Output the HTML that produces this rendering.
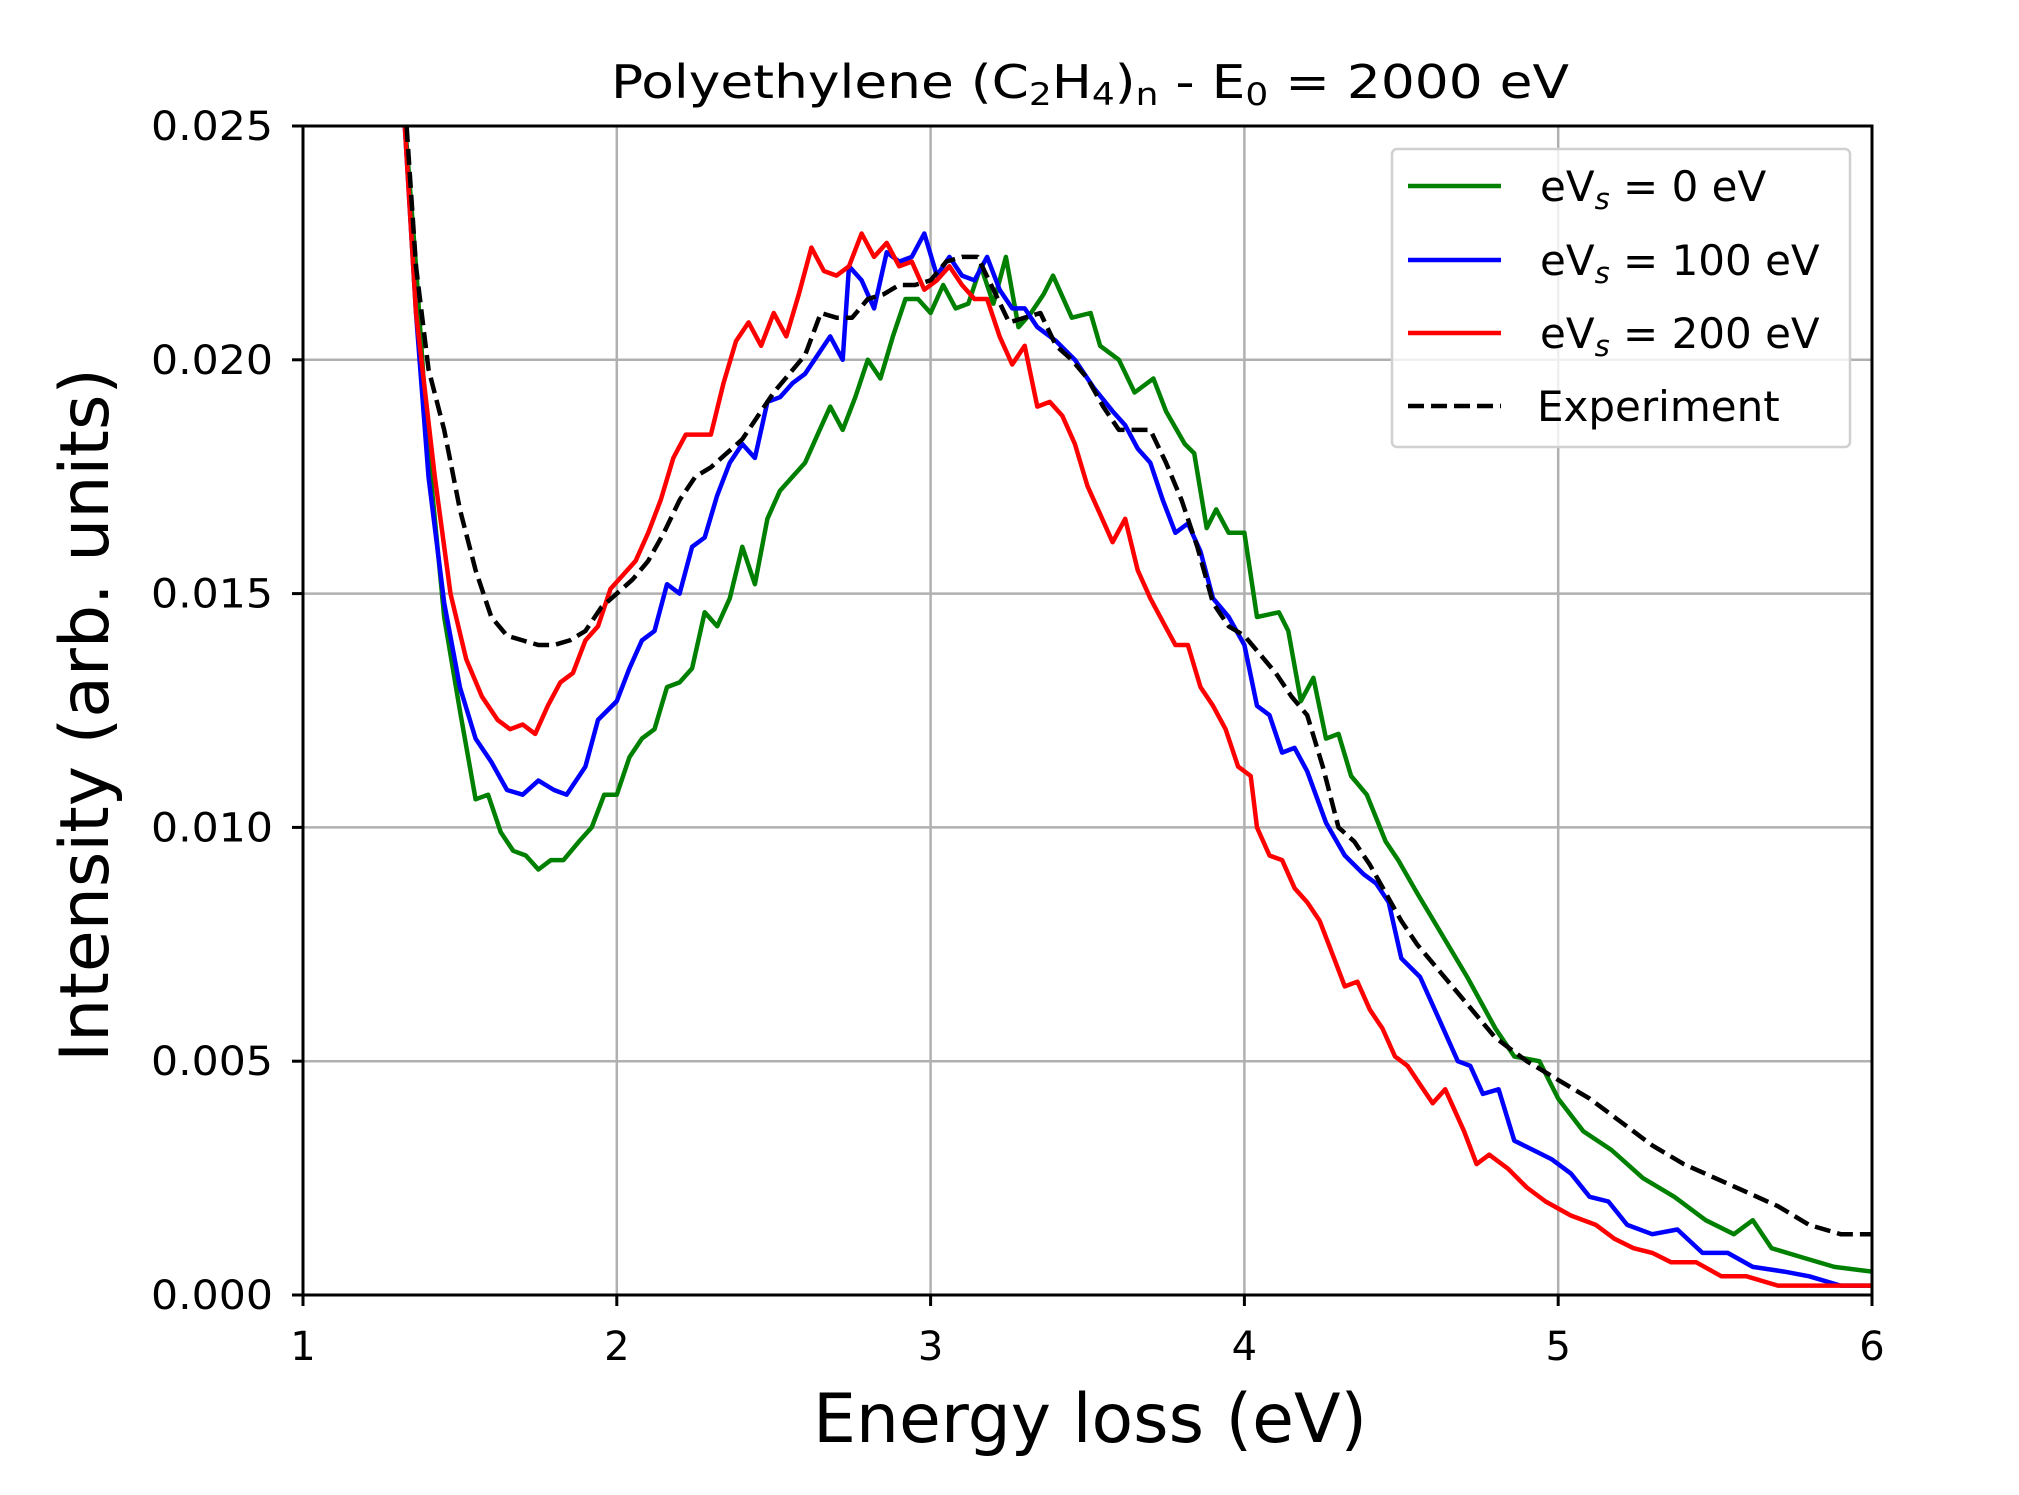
<!DOCTYPE html>
<html><head><meta charset="utf-8"><style>
html,body{margin:0;padding:0;background:#fff;}
svg{display:block;font-family:"DejaVu Sans","Liberation Sans",sans-serif;}
</style></head><body>
<svg id="chart" width="2019" height="1495" viewBox="0 0 2019 1495" xmlns="http://www.w3.org/2000/svg">
<defs><clipPath id="clip"><rect x="303" y="126" width="1569" height="1169"/></clipPath></defs>
<rect width="2019" height="1495" fill="#fff"/>
<g id="grid"></g>
<g id="series" clip-path="url(#clip)"></g>
<rect x="303" y="126" width="1569" height="1169" fill="none" stroke="#000" stroke-width="3"/>
<g id="ticks"></g>
<text x="1090" y="98" font-size="46" text-anchor="middle" textLength="958" lengthAdjust="spacingAndGlyphs">Polyethylene (C<tspan font-size="31" dy="7">2</tspan><tspan dy="-7">H</tspan><tspan font-size="31" dy="7">4</tspan><tspan dy="-7">)</tspan><tspan font-size="31" dy="7">n</tspan><tspan dy="-7"> - E</tspan><tspan font-size="31" dy="7">0</tspan><tspan dy="-7"> = 2000 eV</tspan></text>
<text x="1090" y="1442" font-size="68" text-anchor="middle">Energy loss (eV)</text>
<text transform="translate(108,715) rotate(-90)" font-size="68" text-anchor="middle">Intensity (arb. units)</text>
<g>
<rect x="1392" y="149" width="458" height="298" rx="5" fill="#fff" fill-opacity="0.8" stroke="#d0d0d0" stroke-width="2.5"/>
<line x1="1408" y1="186" x2="1501" y2="186" stroke="#008000" stroke-width="4.5"/>
<text x="1540" y="201" font-size="42">eV<tspan font-size="29" font-style="italic" dy="8">s</tspan><tspan dy="-8"> = 0 eV</tspan></text>
<line x1="1408" y1="260" x2="1501" y2="260" stroke="#0000ff" stroke-width="4.5"/>
<text x="1540" y="275" font-size="42">eV<tspan font-size="29" font-style="italic" dy="8">s</tspan><tspan dy="-8"> = 100 eV</tspan></text>
<line x1="1408" y1="333" x2="1501" y2="333" stroke="#ff0000" stroke-width="4.5"/>
<text x="1540" y="348" font-size="42">eV<tspan font-size="29" font-style="italic" dy="8">s</tspan><tspan dy="-8"> = 200 eV</tspan></text>
<line x1="1408" y1="406" x2="1501" y2="406" stroke="#000" stroke-width="4.5" stroke-dasharray="16,7"/>
<text x="1537" y="421" font-size="42">Experiment</text>
</g>
</svg>
<script>
const xTicks=[1,2,3,4,5,6];
const yTicks=[0,0.005,0.010,0.015,0.020,0.025];
const yTickLabels=["0.000","0.005","0.010","0.015","0.020","0.025"];
const greenE=[1.32,1.36,1.40,1.45,1.50,1.55,1.59,1.63,1.67,1.71,1.75,1.79,1.83,1.88,1.92,1.96,2.00,2.04,2.08,2.12,2.16,2.20,2.24,2.28,2.32,2.36,2.40,2.44,2.48,2.52,2.56,2.60,2.64,2.68,2.72,2.76,2.80,2.84,2.88,2.92,2.96,3.00,3.04,3.08,3.12,3.16,3.20,3.24,3.28,3.32,3.36,3.39,3.45,3.51,3.54,3.60,3.65,3.71,3.75,3.81,3.84,3.88,3.91,3.95,4.00,4.04,4.11,4.14,4.18,4.22,4.26,4.30,4.34,4.39,4.45,4.49,4.55,4.63,4.71,4.80,4.86,4.94,5.00,5.08,5.17,5.27,5.37,5.47,5.56,5.62,5.68,5.78,5.88,6.00];
const greenI=[0.0255,0.022,0.018,0.0145,0.0125,0.0106,0.0107,0.0099,0.0095,0.0094,0.0091,0.0093,0.0093,0.0097,0.0100,0.0107,0.0107,0.0115,0.0119,0.0121,0.0130,0.0131,0.0134,0.0146,0.0143,0.0149,0.0160,0.0152,0.0166,0.0172,0.0175,0.0178,0.0184,0.0190,0.0185,0.0192,0.0200,0.0196,0.0205,0.0213,0.0213,0.0210,0.0216,0.0211,0.0212,0.0220,0.0212,0.0222,0.0207,0.0210,0.0214,0.0218,0.0209,0.0210,0.0203,0.0200,0.0193,0.0196,0.0189,0.0182,0.0180,0.0164,0.0168,0.0163,0.0163,0.0145,0.0146,0.0142,0.0127,0.0132,0.0119,0.0120,0.0111,0.0107,0.0097,0.0093,0.0086,0.0077,0.0068,0.0057,0.0051,0.0050,0.0042,0.0035,0.0031,0.0025,0.0021,0.0016,0.0013,0.0016,0.0010,0.0008,0.0006,0.0005];
const blueE=[1.32,1.36,1.40,1.45,1.50,1.55,1.60,1.65,1.70,1.75,1.80,1.84,1.90,1.94,2.00,2.04,2.08,2.12,2.16,2.20,2.24,2.28,2.32,2.36,2.40,2.44,2.48,2.52,2.56,2.60,2.64,2.68,2.72,2.74,2.78,2.82,2.86,2.90,2.94,2.98,3.02,3.06,3.10,3.14,3.18,3.22,3.26,3.30,3.34,3.40,3.46,3.52,3.58,3.62,3.66,3.70,3.74,3.78,3.82,3.86,3.90,3.95,4.00,4.04,4.08,4.12,4.16,4.20,4.26,4.32,4.38,4.42,4.46,4.50,4.56,4.62,4.68,4.72,4.76,4.81,4.86,4.92,4.98,5.04,5.10,5.16,5.22,5.30,5.38,5.46,5.54,5.62,5.72,5.80,5.90,6.00];
const blueI=[0.0255,0.021,0.0175,0.0148,0.0130,0.0119,0.0114,0.0108,0.0107,0.0110,0.0108,0.0107,0.0113,0.0123,0.0127,0.0134,0.0140,0.0142,0.0152,0.0150,0.0160,0.0162,0.0171,0.0178,0.0182,0.0179,0.0191,0.0192,0.0195,0.0197,0.0201,0.0205,0.0200,0.0220,0.0217,0.0211,0.0223,0.0221,0.0222,0.0227,0.0218,0.0222,0.0218,0.0217,0.0222,0.0215,0.0211,0.0211,0.0207,0.0204,0.0200,0.0194,0.0189,0.0186,0.0181,0.0178,0.0170,0.0163,0.0165,0.0159,0.0149,0.0145,0.0139,0.0126,0.0124,0.0116,0.0117,0.0112,0.0101,0.0094,0.0090,0.0088,0.0084,0.0072,0.0068,0.0059,0.0050,0.0049,0.0043,0.0044,0.0033,0.0031,0.0029,0.0026,0.0021,0.0020,0.0015,0.0013,0.0014,0.0009,0.0009,0.0006,0.0005,0.0004,0.0002,0.0002];
const redE=[1.32,1.36,1.42,1.47,1.52,1.57,1.62,1.66,1.70,1.74,1.78,1.82,1.86,1.90,1.94,1.98,2.02,2.06,2.10,2.14,2.18,2.22,2.26,2.30,2.34,2.38,2.42,2.46,2.50,2.54,2.58,2.62,2.66,2.70,2.74,2.78,2.82,2.86,2.90,2.94,2.98,3.02,3.06,3.10,3.14,3.18,3.22,3.26,3.30,3.34,3.38,3.42,3.46,3.50,3.54,3.58,3.62,3.66,3.70,3.74,3.78,3.82,3.86,3.90,3.94,3.98,4.02,4.04,4.08,4.12,4.16,4.20,4.24,4.28,4.32,4.36,4.40,4.44,4.48,4.52,4.56,4.60,4.64,4.70,4.74,4.78,4.84,4.90,4.96,5.04,5.12,5.18,5.24,5.30,5.36,5.44,5.52,5.60,5.70,5.80,5.90,6.00];
const redI=[0.0255,0.021,0.0175,0.015,0.0136,0.0128,0.0123,0.0121,0.0122,0.0120,0.0126,0.0131,0.0133,0.0140,0.0143,0.0151,0.0154,0.0157,0.0163,0.0170,0.0179,0.0184,0.0184,0.0184,0.0195,0.0204,0.0208,0.0203,0.0210,0.0205,0.0214,0.0224,0.0219,0.0218,0.0220,0.0227,0.0222,0.0225,0.0220,0.0221,0.0215,0.0217,0.0220,0.0216,0.0213,0.0213,0.0205,0.0199,0.0203,0.0190,0.0191,0.0188,0.0182,0.0173,0.0167,0.0161,0.0166,0.0155,0.0149,0.0144,0.0139,0.0139,0.0130,0.0126,0.0121,0.0113,0.0111,0.0100,0.0094,0.0093,0.0087,0.0084,0.0080,0.0073,0.0066,0.0067,0.0061,0.0057,0.0051,0.0049,0.0045,0.0041,0.0044,0.0035,0.0028,0.0030,0.0027,0.0023,0.0020,0.0017,0.0015,0.0012,0.0010,0.0009,0.0007,0.0007,0.0004,0.0004,0.0002,0.0002,0.0002,0.0002];
const expE=[1.33,1.36,1.40,1.45,1.50,1.55,1.60,1.65,1.70,1.75,1.80,1.85,1.90,1.95,2.00,2.05,2.10,2.15,2.20,2.25,2.30,2.35,2.40,2.45,2.50,2.55,2.60,2.65,2.70,2.75,2.80,2.85,2.90,2.95,3.00,3.05,3.10,3.15,3.20,3.25,3.30,3.35,3.40,3.45,3.50,3.55,3.60,3.65,3.70,3.75,3.80,3.85,3.90,3.95,4.00,4.05,4.10,4.15,4.20,4.25,4.30,4.35,4.40,4.45,4.50,4.55,4.60,4.70,4.80,4.90,5.00,5.10,5.20,5.30,5.40,5.50,5.60,5.70,5.80,5.90,6.00];
const expI=[0.025,0.022,0.0198,0.0185,0.0168,0.0155,0.0145,0.0141,0.0140,0.0139,0.0139,0.0140,0.0142,0.0147,0.0150,0.0153,0.0157,0.0163,0.0170,0.0175,0.0177,0.0180,0.0183,0.0188,0.0193,0.0197,0.0201,0.0210,0.0209,0.0209,0.0213,0.0214,0.0216,0.0216,0.0217,0.0221,0.0222,0.0222,0.0215,0.0208,0.0209,0.0210,0.0203,0.0200,0.0196,0.0190,0.0185,0.0185,0.0185,0.0178,0.0170,0.0160,0.0148,0.0143,0.0141,0.0137,0.0133,0.0128,0.0124,0.0113,0.0100,0.0097,0.0092,0.0086,0.0080,0.0075,0.0071,0.0063,0.0055,0.0050,0.0046,0.0042,0.0037,0.0032,0.0028,0.0025,0.0022,0.0019,0.0015,0.0013,0.0013];

const L=303,R=1872,T=126,B=1295;
const sx=e=>L+(e-1)/5*(R-L);
const sy=v=>B-v/0.025*(B-T);
const NS="http://www.w3.org/2000/svg";
const grid=document.getElementById('grid'),ticks=document.getElementById('ticks'),ser=document.getElementById('series');
function mk(tag,attrs,parent){const el=document.createElementNS(NS,tag);for(const k in attrs)el.setAttribute(k,attrs[k]);parent.appendChild(el);return el;}
xTicks.forEach(t=>{
  const x=sx(t);
  const g=mk('line',{x1:x,y1:T,x2:x,y2:B,stroke:'#b0b0b0','stroke-width':2.5},grid);
  
  
  const tk=mk('line',{x1:x,y1:B,x2:x,y2:B+11,stroke:'#000','stroke-width':3},ticks);
  
  
  const tx=mk('text',{x:x,y:B+65,'font-size':40,'text-anchor':'middle'},ticks);
  tx.textContent=String(t);
  
  
});
yTicks.forEach((t,i)=>{
  const y=sy(t);
  const g=mk('line',{x1:L,y1:y,x2:R,y2:y,stroke:'#b0b0b0','stroke-width':2.5},grid);
  
  
  const tk=mk('line',{x1:L-11,y1:y,x2:L,y2:y,stroke:'#000','stroke-width':3},ticks);
  
  
  const tx=mk('text',{x:L-30,y:y+14,'font-size':40,'text-anchor':'end',textLength:122,lengthAdjust:'spacingAndGlyphs'},ticks);
  tx.textContent=yTickLabels[i];
  
  
});
function line(E,I,color,dash,name){
  const d=E.map((e,i)=>(i?'L':'M')+sx(e).toFixed(1)+','+sy(I[i]).toFixed(1)).join('');
  const p=mk('path',{d:d,fill:'none',stroke:color,'stroke-width':4.5,'stroke-linejoin':'round'},ser);
  if(dash)p.setAttribute('stroke-dasharray',dash);
  
  
}
line(greenE,greenI,'#008000',null,'series-0ev');
line(blueE,blueI,'#0000ff',null,'series-100ev');
line(redE,redI,'#ff0000',null,'series-200ev');
line(expE,expI,'#000000','16,7','series-experiment');
</script>
</body></html>
